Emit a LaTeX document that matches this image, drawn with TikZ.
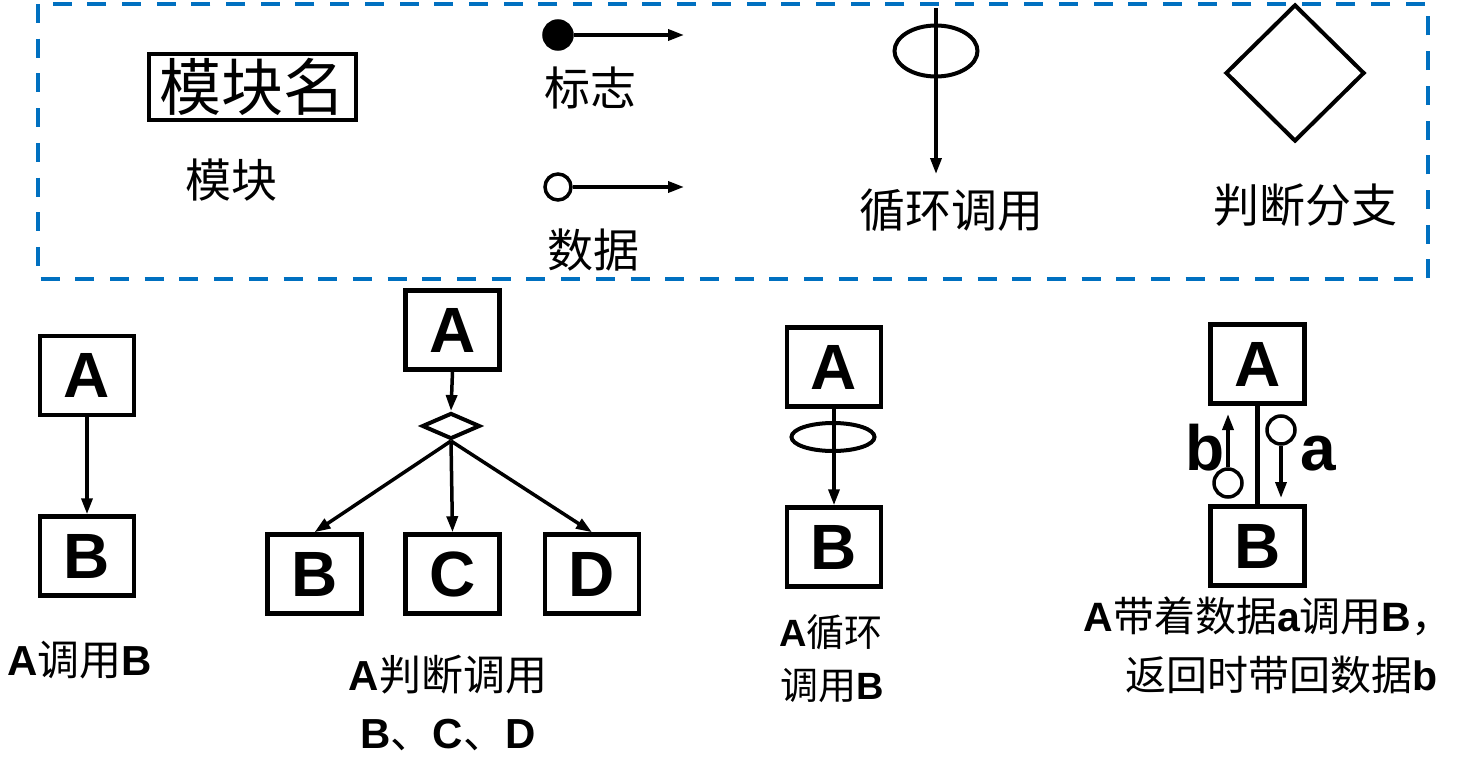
\documentclass[tikz,border=0pt]{standalone}
\usepackage{fontspec}
\setmainfont{Liberation Sans}
\newfontfamily\zh{Noto Sans CJK SC}
\usetikzlibrary{arrows.meta,shapes.geometric}
\definecolor{dashblue}{RGB}{0,112,192}
\newcommand{\lt}[1]{{\bfseries #1}}
\begin{document}
\begin{tikzpicture}[x=1pt,y=-1pt,
  box/.style={draw,line width=4.5pt,minimum width=94pt,minimum height=79pt,inner sep=0pt,
    font=\fontsize{64}{64}\selectfont\bfseries},
  conn/.style={line width=3.5pt,-{Triangle[length=16pt,width=11pt]}},
  leg/.style={font=\fontsize{46}{50}\selectfont\zh,inner sep=0pt},
  lab/.style={font=\fontsize{42}{46}\selectfont,inner sep=0pt},
  dot/.style={circle,draw,line width=3.5pt,minimum size=26pt,inner sep=0pt},
  ring/.style={ellipse,draw,line width=4pt,inner sep=0pt}]
\useasboundingbox (0,0) rectangle (1476,760);

% legend frame
\draw[dashblue,line width=4.5pt,dash pattern=on 19pt off 15.7pt] (38,4) rectangle (1428,279);

% legend: module
\node[draw,line width=4.5pt,minimum width=207pt,minimum height=66pt,inner sep=0pt,
  font=\fontsize{62}{62}\selectfont\zh] (lmod) at (252.5,87) {模块名};
\node[leg] (lmodt) at (231,180) {模块};

% legend: flag
\node[dot,fill=black,minimum size=28pt] (lflag) at (558,35) {};
\coordinate (lflagend) at (684,35);
\draw[conn] (lflag.east) -- (lflagend);
\node[leg] (lflagt) at (590,88) {标志};

% legend: data
\node[dot] (ldat) at (558,187) {};
\coordinate (ldatend) at (684,187);
\draw[conn] (ldat.east) -- (ldatend);
\node[leg] (ldatt) at (593,250) {数据};

% legend: loop
\coordinate (lltop) at (936,8);
\coordinate (llbot) at (936,174);
\node[ring,minimum width=83pt,minimum height=51pt] (lloop) at (936,51) {};
\draw[conn] (lltop) -- (llbot);
\node[leg] (lloopt) at (951,210) {循环调用};

% legend: decision
\node[diamond,draw,line width=4pt,minimum width=139pt,minimum height=137pt,inner sep=0pt] (ldia) at (1295,73) {};
\node[leg] (ldiat) at (1305,205) {判断分支};

% group 1
\node[box] (a1) at (87,375.5) {A};
\node[box] (b1) at (87,556) {B};
\draw[conn] (a1.south) -- (b1.north);
\node[lab] (t1) at (80,660) {\lt{A}{\zh 调用}\lt{B}};

% group 2
\node[box] (a2) at (452.5,330) {A};
\node[diamond,draw,line width=4pt,minimum width=58pt,minimum height=26pt,inner sep=0pt] (d2) at (451,426) {};
\node[box] (b2) at (314.5,574) {B};
\node[box] (c2) at (452.5,574) {C};
\node[box] (e2) at (592,574) {D};
\draw[conn] (a2.south) -- (d2.north);
\draw[conn] (d2.south) -- (b2.north);
\draw[conn] (d2.south) -- (c2.north);
\draw[conn] (d2.south) -- (e2.north);
\node[lab] (t2a) at (448,675) {\lt{A}{\zh 判断调用}};
\node[lab] (t2b) at (448,735) {\lt{B}{\zh 、}\lt{C}{\zh 、}\lt{D}};

% group 3
\node[box] (a3) at (834,367) {A};
\node[box] (b3) at (834,547) {B};
\node[ring,minimum width=83pt,minimum height=28pt] (e3) at (833,437) {};
\draw[conn] (a3.south) -- (b3.north);
\node[lab,font=\fontsize{38}{42}\selectfont] (t3a) at (831,632) {\lt{A}{\zh 循环}};
\node[lab,font=\fontsize{38}{42}\selectfont] (t3b) at (832,686) {{\zh 调用}\lt{B}};

% group 4
\node[box] (a4) at (1257.5,364) {A};
\node[box] (b4) at (1257.5,546) {B};
\draw[line width=4.5pt] (a4.south) -- (b4.north);
\node[dot,minimum size=28pt] (cb) at (1228,483) {};
\coordinate (cbend) at (1228,414);
\draw[conn] (cb.north) -- (cbend);
\node[dot,minimum size=28pt] (ca) at (1281,430) {};
\coordinate (caend) at (1281,498);
\draw[conn] (ca.south) -- (caend);
\node[font=\fontsize{64}{64}\selectfont\bfseries,inner sep=0pt] (lb) at (1205,448) {b};
\node[font=\fontsize{64}{64}\selectfont\bfseries,inner sep=0pt] (la) at (1318,454) {a};
\node[lab,font=\fontsize{41}{45}\selectfont] (t4a) at (1268,616) {\lt{A}{\zh 带着数据}\lt{a}{\zh 调用}\lt{B}{\zh ，}};
\node[lab,font=\fontsize{41}{45}\selectfont] (t4b) at (1282,675) {{\zh 返回时带回数据}\lt{b}};
\end{tikzpicture}
\end{document}
